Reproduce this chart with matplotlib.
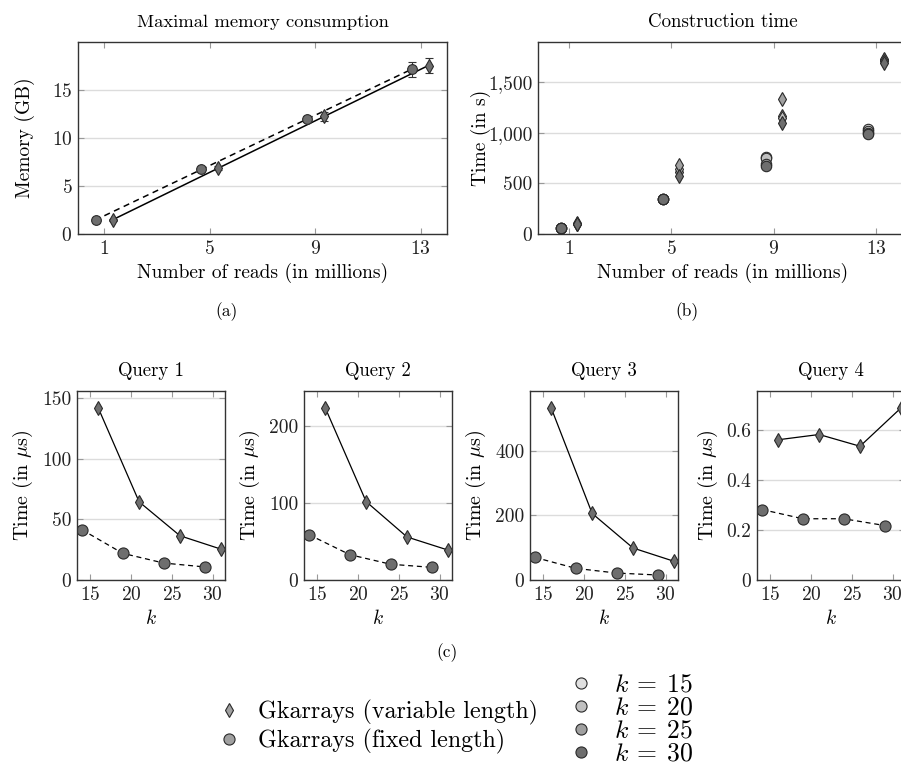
import matplotlib.pyplot as plt
import numpy as np
from matplotlib.lines import Line2D
from matplotlib.ticker import FuncFormatter

plt.rcParams['font.family'] = 'cmr10'
plt.rcParams['mathtext.fontset'] = 'cm'
plt.rcParams['axes.formatter.use_mathtext'] = True
plt.rcParams['font.size'] = 12

# memory consumption (GB) vs number of reads (millions)
reads = [1, 5, 9, 13]
shift = 0.32
mem_fixed = [1.45, 6.75, 12.0, 17.15]
mem_fixed_err = [0.1, 0.15, 0.3, 0.8]
mem_var = [1.45, 6.9, 12.25, 17.55]
mem_var_err = [0.1, 0.2, 0.5, 0.8]
fit_fixed_x = [1.0, 12.6]
fit_var_x = [1.32, 13.32]

# construction time (s), one list per k
k_values = [15, 20, 25, 30]
k_colors = ['#e0e0e0', '#c0c0c0', '#a0a0a0', '#6e6e6e']
time_fixed_k15 = [55, 344, 765, 1040]
time_fixed_k20 = [55, 344, 755, 1020]
time_fixed_k25 = [55, 344, 690, 1000]
time_fixed_k30 = [55, 344, 670, 985]
time_var_k15 = [95, 609, 1166, 1720]
time_var_k20 = [100, 640, 1150, 1730]
time_var_k25 = [105, 679, 1331, 1710]
time_var_k30 = [100, 570, 1096, 1695]

# query times (microseconds)
k_fixed = [14, 19, 24, 29]
k_var = [16, 21, 26, 31]
q1_var = [142, 64.5, 36.5, 25.5]
q1_fixed = [41.5, 22, 14, 10.8]
q2_var = [224, 102, 56, 39]
q2_fixed = [59, 33, 20.5, 16.5]
q3_var = [532, 206, 99, 58]
q3_fixed = [70, 36, 21.5, 15.5]
q4_var = [0.561, 0.582, 0.535, 0.688]
q4_fixed = [0.282, 0.245, 0.245, 0.218]
q_titles = ['Query 1', 'Query 2', 'Query 3', 'Query 4']
q_ymax = [156, 246, 585, 0.756]
q_yticks = [[0, 50, 100, 150], [0, 100, 200], [0, 200, 400], [0, 0.2, 0.4, 0.6]]

W, H = 901, 763
fill = '#6e6e6e'
edge = '#2a2a2a'
grid_c = '#dcdcdc'


def px_axes(fig, left, right, top, bottom):
    return fig.add_axes([left / W, 1 - bottom / H, (right - left) / W, (bottom - top) / H])


def style(ax):
    for s in ax.spines.values():
        s.set_color('#333333')
        s.set_linewidth(1.0)
    ax.tick_params(direction='in', top=True, right=True, length=4, width=0.8,
                   color='#999999', labelcolor='#222222', labelsize=14, pad=4)
    ax.yaxis.grid(True, color=grid_c, lw=1.0)
    ax.set_axisbelow(True)


fig = plt.figure(figsize=(W / 100, H / 100), dpi=100)

# (a) memory
ax = px_axes(fig, 78, 447, 42, 234)
style(ax)
xf = np.array(reads) - shift
xv = np.array(reads) + shift
pf = np.polyfit(xf, mem_fixed, 1)
pv = np.polyfit(xv, mem_var, 1)
ax.plot(fit_fixed_x, np.polyval(pf, fit_fixed_x), 'k--', lw=1.1, dashes=(4, 3))
ax.plot(fit_var_x, np.polyval(pv, fit_var_x), 'k-', lw=1.1)
ax.errorbar(xf, mem_fixed, yerr=mem_fixed_err, fmt='o', ms=7, mfc=fill, mec=edge,
            mew=0.8, ecolor='#333333', elinewidth=0.8, capsize=3, zorder=3)
ax.errorbar(xv, mem_var, yerr=mem_var_err, fmt='d', ms=7, mfc=fill, mec=edge,
            mew=0.8, ecolor='#333333', elinewidth=0.8, capsize=3, zorder=3)
ax.set_xlim(0, 14)
ax.set_ylim(0, 20)
ax.set_xticks(reads)
ax.set_yticks([0, 5, 10, 15])
ax.set_xlabel('Number of reads (in millions)', fontsize=14, labelpad=4)
ax.set_ylabel('Memory (GB)', fontsize=14, labelpad=12)
ax.set_title('Maximal memory consumption', fontsize=13.4, pad=11)

# (b) construction time
ax = px_axes(fig, 538, 907, 42, 234)
style(ax)
fixed_rows = [time_fixed_k15, time_fixed_k20, time_fixed_k25, time_fixed_k30]
var_rows = [time_var_k15, time_var_k20, time_var_k25, time_var_k30]
for row, c in zip(fixed_rows, k_colors):
    ax.plot(xf, row, 'o', ms=7.5, mfc=c, mec=edge, mew=0.8, zorder=3)
for row, c in zip(var_rows, k_colors):
    ax.plot(xv, row, 'd', ms=7, mfc=c, mec=edge, mew=0.8, zorder=3)
ax.set_xlim(-0.2, 14.2)
ax.set_ylim(0, 1900)
ax.set_xticks(reads)
ax.set_yticks([0, 500, 1000, 1500])
ax.yaxis.set_major_formatter(FuncFormatter(lambda v, p: f'{v:,.0f}'))
ax.set_xlabel('Number of reads (in millions)', fontsize=14, labelpad=4)
ax.set_ylabel('Time (in s)', fontsize=14, labelpad=-2)
ax.set_title('Construction time', fontsize=13.6, pad=11)

fig.text(227 / W, 1 - 312 / H, '(a)', ha='center', va='center', fontsize=12.5)
fig.text(687 / W, 1 - 312 / H, '(b)', ha='center', va='center', fontsize=12.5)

# (c) queries
q_var = [q1_var, q2_var, q3_var, q4_var]
q_fixed = [q1_fixed, q2_fixed, q3_fixed, q4_fixed]
q_left = [77, 304, 530, 757]
for i in range(4):
    ax = px_axes(fig, q_left[i], q_left[i] + 148, 391, 580)
    style(ax)
    ax.plot(k_var, q_var[i], 'k-', lw=0.9, marker='d', ms=7, mfc=fill, mec=edge, mew=0.8)
    ax.plot(k_fixed, q_fixed[i], 'k--', lw=0.9, dashes=(4, 3), marker='o', ms=8,
            mfc=fill, mec=edge, mew=0.8)
    ax.set_xlim(13.4, 31.5)
    ax.set_ylim(0, q_ymax[i])
    ax.set_xticks([15, 20, 25, 30])
    ax.set_yticks(q_yticks[i])
    ax.yaxis.set_major_formatter(FuncFormatter(lambda v, p: f'{v:g}'))
    ax.set_xlabel('$k$', fontsize=14, labelpad=4)
    ax.set_ylabel(r'Time (in $\mu$s)', fontsize=14.5, labelpad=5)
    ax.set_title(q_titles[i], fontsize=13.5, pad=11)

fig.text(447 / W, 1 - 653 / H, '(c)', ha='center', va='center', fontsize=12.5)

# legends
h_series = [Line2D([], [], ls='', marker='d', ms=7, mfc='#a0a0a0', mec=edge, mew=0.8),
            Line2D([], [], ls='', marker='o', ms=8, mfc='#a0a0a0', mec=edge, mew=0.8)]
fig.legend(h_series, ['Gkarrays (variable length)', 'Gkarrays (fixed length)'],
           loc='upper left', bbox_to_anchor=(215 / W, 1 - 700 / H), frameon=False,
           fontsize=17.3, handlelength=1.2, handletextpad=0.6, labelspacing=0.15,
           borderpad=0, borderaxespad=0)
h_k = [Line2D([], [], ls='', marker='o', ms=8, mfc=c, mec=edge, mew=0.8) for c in k_colors]
fig.legend(h_k, [rf'$k\:=\:{k}$' for k in k_values], loc='upper left',
           bbox_to_anchor=(566 / W, 1 - 673 / H), frameon=False, fontsize=18.5,
           handlelength=1.2, handletextpad=0.65, labelspacing=-0.03,
           borderpad=0, borderaxespad=0)

fig.savefig('out.png', dpi=100)
